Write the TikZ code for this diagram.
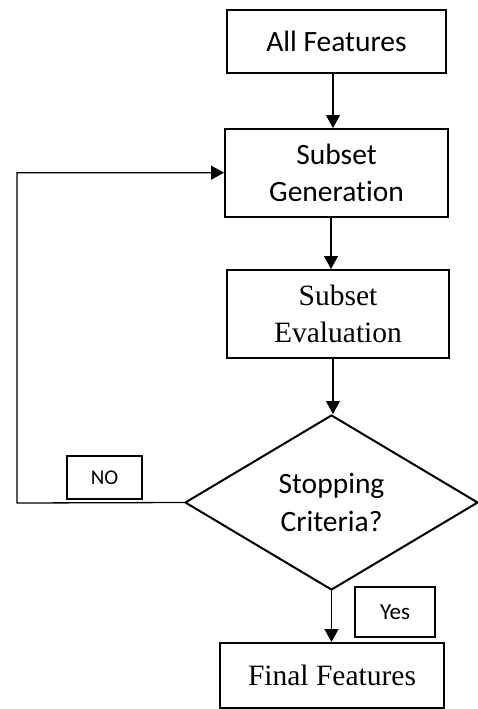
\documentclass[tikz,border=0pt]{standalone}
\usepackage{fontspec}
\setmainfont{Liberation Serif}
\newfontfamily\calfont[Ligatures=NoCommon]{Carlito}
\usetikzlibrary{shapes.geometric,arrows.meta}
\tikzset{
  box/.style={draw=black, line width=2pt, fill=white, inner sep=0pt, align=center, text=black},
  calbox/.style={box, font=\calfont\fontsize{29.5}{37}\selectfont},
  tmsbox/.style={box, font=\fontsize{29.5}{37}\selectfont},
  tag/.style={draw=black, line width=1.3pt, fill=white, inner sep=0pt, font=\calfont},
  arr/.style={line width=1.3pt, -{Triangle[length=13pt,width=14pt]}}
}
\begin{document}
\begin{tikzpicture}[x=1pt,y=-1pt]
\useasboundingbox[fill=white] (0,0) rectangle (478,709);
\node[calbox, minimum width=219pt, minimum height=63pt] (allf) at (336.5,41.5) {All Features};
\node[calbox, minimum width=223pt, minimum height=88pt] (gen) at (336.5,173) {Subset\\Generation};
\node[tmsbox, minimum width=222pt, minimum height=88pt] (eval) at (338,314) {Subset\\Evaluation};
\node[draw=black, line width=2pt, fill=white, diamond, aspect=1.67, inner sep=0pt,
      minimum width=293pt, minimum height=175pt, align=center,
      font=\calfont\fontsize{29.5}{38}\selectfont] (crit) at (331.5,502.5) {Stopping\\Criteria?};
\node[box, minimum width=224pt, minimum height=65pt, font=\fontsize{29.5}{35}\selectfont] (final) at (332,675.5) {Final Features};
\node[tag, minimum width=75pt, minimum height=43pt, font=\calfont\fontsize{21}{24}\selectfont] (no) at (104.5,477.5) {\raisebox{-4pt}{NO}};
\node[tag, minimum width=80pt, minimum height=50pt, font=\calfont\fontsize{23}{26}\selectfont] (yes) at (395,612) {Yes};
\coordinate (c1) at (17,503);
\coordinate (c2) at (17,172.7);
\draw[arr] ([xshift=-3.5pt]allf.south) -- ([xshift=-3.5pt]allf.south |- gen.north);
\draw[arr] ([xshift=-5.5pt]gen.south) -- ([xshift=-5.5pt]gen.south |- eval.north);
\draw[arr] ([xshift=-5pt]eval.south) -- ([xshift=-5pt]eval.south |- crit.north);
\draw[arr] (crit.south) -- (crit.south |- final.north);
\draw[arr] (crit.west) -- (c1) -- (c2) -- (c2 -| gen.west);
\end{tikzpicture}
\end{document}
